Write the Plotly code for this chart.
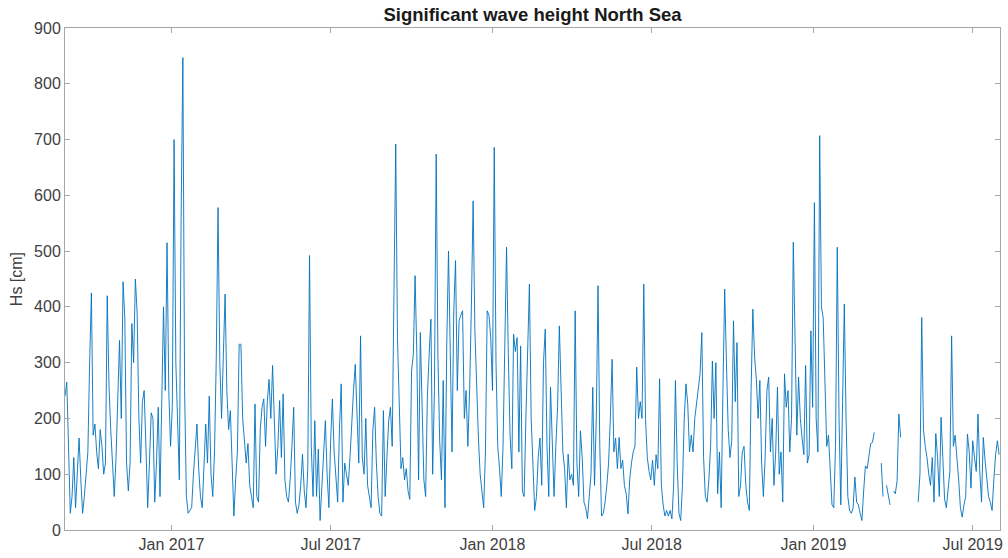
import numpy as np
import pandas as pd
import plotly.graph_objects as go

nan = np.nan

# Significant wave height [cm], one reading every 2 days starting 2016-09-02
start_date = "2016-09-02"
step = "2D"
hs = [
    # Sep 2016 - Jan 2017
    240, 265, 150, 30, 60, 130, 40, 100, 165, 90,
    30, 60, 110, 140, 300, 425, 170, 190, 140, 110,
    180, 150, 100, 120, 420, 260, 180, 110, 60, 130,
    220, 340, 200, 445, 380, 120, 70, 120, 370, 300,
    450, 390, 200, 120, 230, 250, 150, 40, 120, 210,
    200, 50, 120, 220, 60, 200, 400, 250, 515, 250,
    150, 220, 700, 300, 200, 90, 560, 847, 250, 60,
    30, 35, 40, 100, 150, 190, 110, 60, 40, 120,
    190, 120, 240, 100, 60, 140, 310, 578, 300, 200,
    # Mar 2017 - Sep 2017
    300, 423, 250, 180, 214, 120, 25, 90, 140, 333,
    333, 200, 150, 120, 155, 80, 60, 40, 226, 60,
    50, 180, 220, 235, 150, 230, 270, 200, 295, 190,
    100, 150, 232, 130, 244, 90, 60, 50, 90, 150,
    220, 50, 30, 45, 80, 136, 70, 40, 110, 492,
    150, 60, 196, 60, 145, 17, 80, 150, 196, 100,
    40, 160, 235, 140, 100, 50, 180, 262, 50, 120,
    100, 80, 130, 200, 250, 297, 220, 120, 348, 130,
    100, 200, 80, 60, 40, 180, 220, 120, 60,
    # Sep 2017 - Mar 2018
    30,
    25, 214, 60, 130, 196, 220, 150, 426, 692, 345,
    200, 110, 130, 90, 110, 70, 55, 285, 315, 456,
    315, 90, 354, 200, 90, 60, 240, 315, 378, 100,
    250, 674, 310, 160, 90, 268, 40, 330, 500, 320,
    140, 393, 483, 250, 375, 385, 393, 200, 250, 150,
    250, 400, 590, 357, 250, 165, 100, 70, 40, 140,
    393, 385, 345, 250, 686, 300, 150, 110, 60, 150,
    330, 507, 315, 170, 110, 351, 320, 345, 140, 330,
    70, 60, 200, 300, 441, 200, 130, 35, 60, 130,
    # Mar 2018 - Sep 2018
    165, 80, 300, 360, 150, 60, 256, 160, 60, 150,
    220, 366, 226, 140, 110, 40, 136, 90, 100, 80,
    393, 120, 60, 178, 130, 50, 40, 20, 60, 100,
    256, 80, 200, 438, 150, 25, 30, 50, 80, 120,
    200, 306, 140, 165, 110, 166, 110, 125, 80, 65,
    29, 90, 120, 140, 150, 292, 200, 230, 200, 441,
    200, 130, 105, 90, 125, 80, 135, 110, 271, 80,
    45, 25, 35, 25, 35, 20, 80, 268, 120, 30,
    17, 80, 200, 262, 225, 140, 170, 140, 200, 226,
    # Sep 2018 - Mar 2019
    250, 280, 354, 130, 60, 50, 90, 150, 303, 200,
    300, 65, 140, 40, 250, 432, 300, 180, 130, 160,
    375, 230, 336, 60, 80, 140, 150, 80, 50, 35,
    250, 396, 310, 270, 200, 268, 120, 60, 130, 250,
    274, 140, 200, 80, 140, 256, 100, 140, 50, 280,
    220, 250, 140, 200, 516, 350, 170, 274, 200, 165,
    135, 295, 120, 135, 357, 220, 587, 200, 140, 707,
    400, 380, 250, 150, 170, 110, 45, 40, 150, 507,
    200, 45, 250, 405, 200, 60, 35, 30, 40, 95,
    # Mar 2019 - Jul 2019 (with data gaps)
    50, 45, 30, 17, 70, 115, 110, 135, 155, 157,
    175, nan, nan, nan, 120, 60, nan, 80, 65, 45,
    nan, 70, 65, 88, 208, 166, nan, nan, nan, nan,
    nan, nan, nan, nan, nan, 50, 100, 381, 180, 150,
    130, 100, 80, 130, 50, 173, 130, 60, 202, 130,
    55, 40, 75, 105, 348, 150, 170, 135, 90, 40,
    23, 45, 60, 172, 140, 75, 160, 130, 105, 208,
    105, 50, 166, 125, 95, 60, 50, 35, 90, 135,
    160, 135,
]

title_text = "Significant wave height North Sea"
y_label = "Hs [cm]"
x_range = ["2016-09-02", "2019-08-01"]
y_range = [0, 900]

dates = pd.date_range(start_date, periods=len(hs), freq=step)

FONT = "Liberation Sans, Arial, sans-serif"

fig = go.Figure()
fig.add_trace(go.Scatter(
    x=dates, y=hs, mode="lines",
    line=dict(color="#0072BD", width=0.9),
    connectgaps=False, showlegend=False,
))

axis_common = dict(
    showline=True, linecolor="#a6a6a6", linewidth=1, mirror="ticks",
    ticks="inside", ticklen=5, tickcolor="#a6a6a6", showgrid=False, zeroline=False,
    tickfont=dict(family=FONT, size=16, color="#404040"),
)

fig.update_layout(
    width=1008, height=558,
    margin=dict(l=65, r=5, t=28, b=28),
    paper_bgcolor="white", plot_bgcolor="white",
    title=dict(text="<b>" + title_text + "</b>", x=0.5, xref="paper", xanchor="center",
               y=1 - 15 / 558, yref="container", yanchor="middle",
               font=dict(family=FONT, size=18.5, color="#1a1a1a")),
    xaxis=dict(range=x_range, type="date", tick0="2017-01-01", dtick="M6",
               tickformat="%b %Y", **axis_common),
    yaxis=dict(range=y_range, dtick=100, **axis_common),
    annotations=[dict(text=y_label, x=(16 - 65) / 938, xref="paper", y=0.5, yref="paper",
                      textangle=-90, showarrow=False, xanchor="center", yanchor="middle",
                      font=dict(family=FONT, size=16, color="#404040"))],
)

fig.write_html("out.html")
